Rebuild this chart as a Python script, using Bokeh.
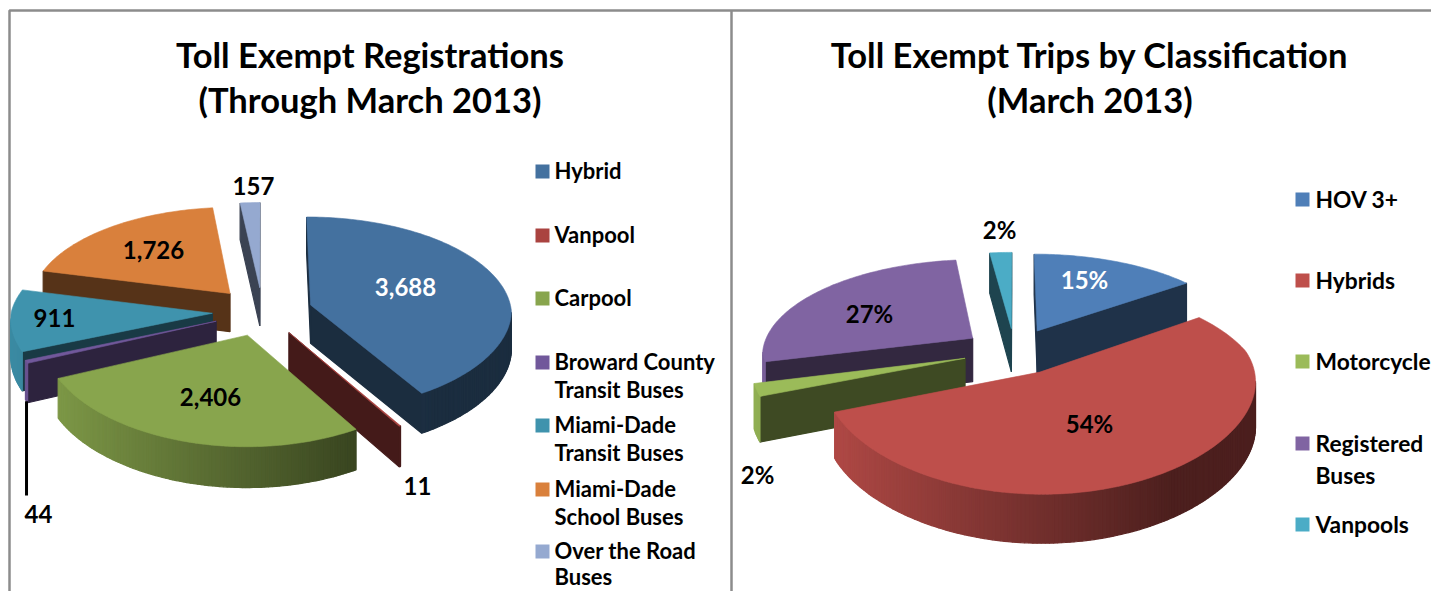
import math
from bokeh.plotting import figure
from bokeh.models import Range1d
from bokeh.core.properties import value
from bokeh.embed import file_html
from bokeh.resources import INLINE

# ---------- data ----------
reg_categories = ["Hybrid", "Vanpool", "Carpool", "Broward County\nTransit Buses",
                  "Miami-Dade\nTransit Buses", "Miami-Dade\nSchool Buses", "Over the Road\nBuses"]
reg_values = [3688, 11, 2406, 44, 911, 1726, 157]
reg_colors = ["#44719F", "#AA4340", "#88A54D", "#71589B", "#3F93AD", "#D9803C", "#95A9D0"]

trip_categories = ["HOV 3+", "Hybrids", "Motorcycle", "Registered\nBuses", "Vanpools"]
trip_values = [15, 54, 2, 27, 2]
trip_colors = ["#4F7FB8", "#BE4F4B", "#9BBB59", "#8064A2", "#4BACC6"]

title_left = "Toll Exempt Registrations\n(Through March 2013)"
title_right = "Toll Exempt Trips by Classification\n(March 2013)"

FONT = "Lato"
W, H = 1431, 591
p = figure(width=W, height=H, x_range=Range1d(0, W), y_range=Range1d(H, 0),
           output_backend="svg", toolbar_location=None, min_border=0,
           background_fill_color="white", border_fill_color="white", outline_line_color=None)
p.axis.visible = False
p.grid.visible = False


def shade(col, f):
    r, g, b = int(col[1:3], 16), int(col[3:5], 16), int(col[5:7], 16)
    return "#%02x%02x%02x" % (int(r * f), int(g * f), int(b * f))


def draw_pie(vals, colors, order, cx, cy, rx, ry, k, depth, explode):
    total = sum(vals)
    def proj(X, Z):
        s = 1.0 / (1 + k * Z)
        sx = s if s < 1 else math.sqrt(s)
        return cx + rx * X * sx, cy - ry * Z * s, depth * math.sqrt(s)
    angle = 0.0
    slices = []
    for v in vals:
        sweep = 360.0 * v / total
        slices.append((angle, angle + sweep))
        angle += sweep
    geo = []
    for i in order:
        a0, a1 = slices[i]
        mid = math.radians((a0 + a1) / 2)
        ex, ez = explode * math.sin(mid), explode * math.cos(mid)
        n = max(2, int((a1 - a0) / 1.0))
        pts = [proj(ex, ez)]
        ths = [None]
        for t in range(n + 1):
            th = math.radians(a0 + (a1 - a0) * t / n)
            pts.append(proj(ex + math.sin(th), ez + math.cos(th)))
            ths.append(th)
        walls = []
        m = len(pts)
        for e in range(m):
            a, b = pts[e], pts[(e + 1) % m]
            if b[0] - a[0] >= 0:
                continue
            rim = ths[e] is not None and ths[(e + 1) % m] is not None
            if rim:
                f = min(1.0, max(0.40, 0.6 - 0.352 * math.sin((ths[e] + ths[(e + 1) % m]) / 2)))
            else:
                f = 0.40
            walls.append(((a[1] + b[1]) / 2, [a[0], b[0], b[0], a[0]],
                          [a[1], b[1], b[1] + b[2], a[1] + a[2]], shade(colors[i], f)))
        walls.sort(key=lambda w: w[0])
        if walls:
            p.patches([w[1] for w in walls], [w[2] for w in walls],
                      fill_color=[w[3] for w in walls], line_color=[w[3] for w in walls], line_width=1.2)
        p.patch([q[0] for q in pts], [q[1] for q in pts], fill_color=colors[i],
                line_color=colors[i], line_width=0.6)
        geo.append((i, pts))
    return dict(geo)


def label(x, y, s, color="black", size=24):
    p.text([x], [y], text=[s], text_font=value(FONT), text_font_style="bold",
           text_font_size=f"{size}px", text_color=color, text_align="center", text_baseline="middle")


# frame
p.line([9, 9, 1439], [607, 10, 10], line_color="#8C8C8C", line_width=2.5)
p.line([731, 731], [10, 607], line_color="#8C8C8C", line_width=2.5)

# titles
for cx_t, t in ((369.5, title_left), (1089.5, title_right)):
    for n_l, line in enumerate(t.split("\n")):
        label(cx_t, 53.5 + 45 * n_l, line, size=34.5)

# left pie
g = draw_pie(reg_values, reg_colors, [6, 5, 0, 4, 3, 1, 2],
             cx=262, cy=311, rx=201, ry=97, k=0.09, depth=38.5, explode=0.25)
# leader line for the small Broward slice
br = g[3][len(g[3]) // 2]
p.line([br[0], br[0]], [br[1] + br[2], 495], line_color="black", line_width=3)

left_lab = [(405, 286, "white"), (417, 485, "black"), (210, 396, "black"), (38, 513, "black"),
            (54, 317, "black"), (153, 249, "black"), (253, 185, "black")]
for (x, y, c), v in zip(left_lab, reg_values):
    label(x, y, f"{v:,}", c)

# right pie
draw_pie(trip_values, trip_colors, [4, 0, 3, 2, 1],
         cx=1014, cy=350.5, rx=211, ry=95, k=0.16, depth=44, explode=0.245)
right_lab = [(1084, 279, "white"), (1089, 423, "black"), (757, 474, "black"),
             (869, 313, "black"), (999, 229, "black")]
for (x, y, c), v in zip(right_lab, trip_values):
    label(x, y, f"{v}%", c)


# legends
def legend(cats, cols, x_box, x_txt, ys, dys, size):
    for c, col, y, dy in zip(cats, cols, ys, dys):
        p.quad(left=[x_box], right=[x_box + 14], top=[y - 7], bottom=[y + 7], fill_color=col, line_color=None)
        for n_l, line in enumerate(c.split("\n")):
            p.text([x_txt], [y + dy * n_l - 1], text=[line], text_font=value(FONT), text_font_style="bold",
                   text_font_size=f"{size}px", text_color="black", text_align="left", text_baseline="middle")


legend(reg_categories, reg_colors, 535, 554, [171, 235, 298, 362, 425, 489, 551],
       [28, 28, 28, 28, 28, 28, 26], 22)
legend(trip_categories, trip_colors, 1295, 1315, [199, 280, 361, 443, 524],
       [32, 32, 32, 32, 32], 22.8)

open("out.html", "w").write(file_html(p, INLINE))
